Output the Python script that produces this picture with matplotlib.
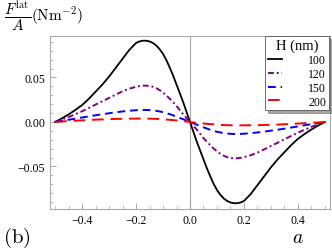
import matplotlib
matplotlib.use("Agg")
import matplotlib.pyplot as plt
from matplotlib.ticker import MultipleLocator, FuncFormatter

plt.rcParams['mathtext.fontset'] = 'cm'
plt.rcParams['font.family'] = ['Liberation Serif', 'DejaVu Serif']

# lateral force per area vs. phase shift a, for several plate separations H
a = [-0.5, -0.475, -0.45, -0.425, -0.4, -0.375, -0.35, -0.325, -0.3, -0.275,
     -0.25, -0.225, -0.2, -0.1875, -0.175, -0.1625, -0.15, -0.1375, -0.125,
     -0.1125, -0.1, -0.0875, -0.075, -0.0625, -0.05, -0.0375, -0.025, -0.0125,
     0.0,
     0.0125, 0.025, 0.0375, 0.05, 0.0625, 0.075, 0.0875, 0.1, 0.1125, 0.125,
     0.1375, 0.15, 0.1625, 0.175, 0.1875, 0.2, 0.225, 0.25, 0.275, 0.3, 0.325,
     0.35, 0.375, 0.4, 0.425, 0.45, 0.475, 0.5]

f_100 = [0.0, 0.004, 0.0085, 0.0135, 0.019, 0.026, 0.034, 0.042, 0.051, 0.061,
         0.071, 0.081, 0.0888, 0.0905, 0.0913, 0.0913, 0.0905, 0.0887, 0.086,
         0.0818, 0.0765, 0.0695, 0.061, 0.052, 0.042, 0.032, 0.022, 0.011,
         0.0,
         -0.011, -0.022, -0.032, -0.042, -0.052, -0.061, -0.0695, -0.0765, -0.0818, -0.086,
         -0.0887, -0.0905, -0.0913, -0.0913, -0.0905, -0.0888, -0.081, -0.071, -0.061, -0.051, -0.042,
         -0.034, -0.026, -0.019, -0.0135, -0.0085, -0.004, 0.0]

f_120 = [0.0, 0.0027, 0.0055, 0.0087, 0.012, 0.0157, 0.0195, 0.0233, 0.027, 0.0308,
         0.0345, 0.0374, 0.0395, 0.0403, 0.0408, 0.0408, 0.0405, 0.0395, 0.038,
         0.0358, 0.033, 0.0298, 0.026, 0.0222, 0.018, 0.0133, 0.0085, 0.0043,
         0.0,
         -0.0043, -0.0085, -0.0133, -0.018, -0.0222, -0.026, -0.0298, -0.033, -0.0358, -0.038,
         -0.0395, -0.0405, -0.0408, -0.0408, -0.0403, -0.0395, -0.0374, -0.0345, -0.0308, -0.027, -0.0233,
         -0.0195, -0.0157, -0.012, -0.0087, -0.0055, -0.0027, 0.0]

f_150 = [0.0, 0.0012, 0.0025, 0.0037, 0.005, 0.0063, 0.0075, 0.0087, 0.0098, 0.0109,
         0.0118, 0.0126, 0.0132, 0.0134, 0.0135, 0.0135, 0.0133, 0.013, 0.0125,
         0.0118, 0.011, 0.0099, 0.0088, 0.0074, 0.006, 0.0045, 0.003, 0.0015,
         0.0,
         -0.0015, -0.003, -0.0045, -0.006, -0.0074, -0.0088, -0.0099, -0.011, -0.0118, -0.0125,
         -0.013, -0.0133, -0.0135, -0.0135, -0.0134, -0.0132, -0.0126, -0.0118, -0.0109, -0.0098, -0.0087,
         -0.0075, -0.0063, -0.005, -0.0037, -0.0025, -0.0012, 0.0]

f_200 = [0.0, 0.0005, 0.001, 0.0014, 0.0018, 0.0022, 0.0026, 0.0029, 0.0032, 0.0034,
         0.0036, 0.0037, 0.0038, 0.0038, 0.0038, 0.0038, 0.0037, 0.0036, 0.0035,
         0.0033, 0.003, 0.0027, 0.0024, 0.0021, 0.0017, 0.0013, 0.0009, 0.0005,
         0.0,
         -0.0005, -0.0009, -0.0013, -0.0017, -0.0021, -0.0024, -0.0027, -0.003, -0.0033, -0.0035,
         -0.0036, -0.0037, -0.0038, -0.0038, -0.0038, -0.0038, -0.0037, -0.0036, -0.0034, -0.0032, -0.0029,
         -0.0026, -0.0022, -0.0018, -0.0014, -0.001, -0.0005, 0.0]

labels = ['100', '120', '150', '200']


def signed(fmt):
    return FuncFormatter(lambda v, p: ('\u2212' if v < -1e-9 else '') + fmt.format(abs(v)))


fig = plt.figure(figsize=(3.32, 2.53), dpi=100)
ax = fig.add_axes([50/332, 1 - 210/253, 280/332, 173/253])

ax.axvline(0, color='#aaaaaa', lw=0.8, zorder=1)

ax.plot(a, f_100, color='black', lw=1.3, label=labels[0])
ax.plot(a, f_120, color='#800080', lw=1.4, dashes=(3, 1.5, 1, 1.5), label=labels[1])
ax.plot(a, f_150, color='blue', lw=1.4, dashes=(4, 2.5), label=labels[2])
ax.plot(a, f_200, color='red', lw=1.4, dashes=(6, 3.5), label=labels[3])

ax.set_xlim(-0.519, 0.519)
ax.set_ylim(-0.0978, 0.0966)

ax.xaxis.set_major_locator(MultipleLocator(0.2))
ax.xaxis.set_minor_locator(MultipleLocator(0.05))
ax.yaxis.set_major_locator(MultipleLocator(0.05))
ax.yaxis.set_minor_locator(MultipleLocator(0.01))
ax.tick_params(which='both', direction='in', colors='#999999', labelcolor='black',
               labelsize=8.5, top=False, right=False)
ax.tick_params(which='major', length=4, width=0.6)
ax.tick_params(which='minor', length=2, width=0.5)
ax.xaxis.set_major_formatter(signed("{:.1f}"))
ax.yaxis.set_major_formatter(signed("{:.2f}"))

for s in ax.spines.values():
    s.set_color('#aaaaaa')
    s.set_linewidth(0.8)

leg = ax.legend(title='H (nm)', loc='upper right', bbox_to_anchor=(329/332, 1 - 37/253),
                bbox_transform=fig.transFigure, fontsize=8.5, title_fontsize=10.5,
                frameon=True, fancybox=False, shadow=True, edgecolor='#555555',
                handlelength=1.2, handletextpad=2.2, borderpad=0.25, labelspacing=0.15,
                borderaxespad=0)
leg.get_frame().set_linewidth(0.6)

fig.text(4/332, 1 - 16/253, r'$\dfrac{F^{\rm lat}}{A}(\mathrm{Nm}^{-2})$', fontsize=11,
         va='center', ha='left')
fig.text(3/332, 1 - 238/253, r'$(\mathrm{b})$', fontsize=15, va='center', ha='left')
fig.text(298/332, 1 - 239/253, r'$a$', fontsize=14, va='center', ha='center')

fig.savefig('out.png', dpi=100)
